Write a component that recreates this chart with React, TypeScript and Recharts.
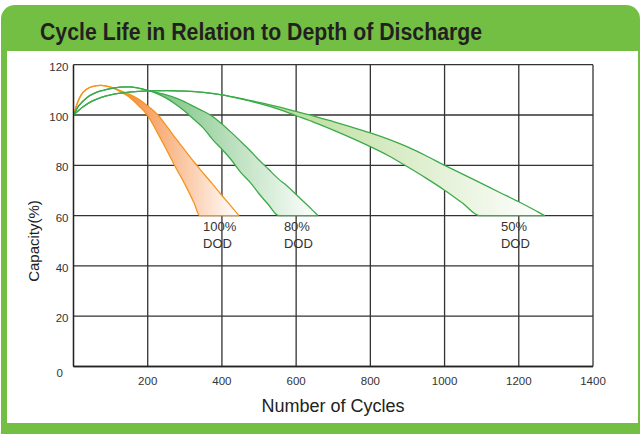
import React from 'react';
import { ComposedChart, Area, XAxis, YAxis, CartesianGrid, ReferenceDot } from 'recharts';

const xTicks = [0, 200, 400, 600, 800, 1000, 1200, 1400];
const yTicks = [0, 20, 40, 60, 80, 100, 120];

// 100% DOD band (orange)
const dod100Cycles = [0, 10, 20, 35, 50, 75, 100, 125, 150, 175, 200, 225, 250, 275, 300, 325, 340, 375, 400, 425, 446];
const dod100Upper = [100, 104.6, 107.8, 110.2, 111.3, 111.8, 111.1, 109.8, 108.3, 106.3, 103.6, 100.4, 95.8, 90.8, 86, 81.3, 78.6, 72.5, 68, 63.7, 60];
const dod100Lower = [100, 104.6, 107.8, 110.2, 111.3, 111.8, 111.1, 109.4, 107.2, 103.8, 99.8, 93.3, 86.4, 79.2, 72.5, 65, 60, 60, 60, 60, 60];

// 80% DOD band (green)
const dod80Cycles = [0, 15, 35, 60, 80, 100, 125, 150, 175, 200, 225, 250, 275, 300, 325, 350, 375, 400, 425, 450, 475, 500, 525, 553, 575, 600, 625, 650, 659];
const dod80Upper = [100, 103.8, 106.8, 108.9, 109.8, 110.5, 111.1, 111.2, 110.7, 109.8, 108.9, 108, 106.8, 105.2, 103.3, 101.5, 99.4, 96.4, 93.1, 89.6, 86, 82.1, 78.5, 74.5, 71.9, 68.4, 64.9, 61.3, 60];
const dod80Lower = [100, 103.8, 106.8, 108.9, 109.8, 110.5, 111.1, 111.2, 110.7, 109.8, 108.5, 106.7, 104.3, 101.5, 98.2, 94.8, 90.2, 86.4, 82.2, 77.3, 73.4, 68.7, 64.4, 60, 60, 60, 60, 60, 60];

// 50% DOD band (light green)
const dod50Cycles = [0, 25, 50, 75, 100, 150, 200, 250, 300, 350, 400, 450, 500, 550, 600, 650, 700, 750, 800, 850, 900, 950, 1000, 1050, 1094, 1150, 1200, 1250, 1270];
const dod50Upper = [100, 103.2, 105.5, 107, 108, 109.1, 109.6, 109.7, 109.5, 109, 108, 106.6, 105, 103.3, 101.4, 99.5, 97.4, 95.2, 92.9, 90.3, 87.3, 83.8, 80, 76.4, 73.2, 69.1, 65.5, 61.6, 60];
const dod50Lower = [100, 103.2, 105.5, 107, 108, 109.1, 109.6, 109.7, 109.5, 109, 108, 106.4, 104.6, 102.4, 99.7, 97, 94, 90.8, 87.4, 83.7, 79.4, 74.9, 70.1, 64.8, 60, 60, 60, 60, 60];

const dodLabels = [
  { cycles: 349, top: '100%', bottom: 'DOD' },
  { cycles: 567, top: '80%', bottom: 'DOD' },
  { cycles: 1152, top: '50%', bottom: 'DOD' },
];

const toRows = (xs: number[], lo: number[], hi: number[]) =>
  xs.map((x, i) => ({ x, band: [lo[i], hi[i]] }));

const FONT = '"Liberation Sans", Arial, sans-serif';
const GREEN = '#72BF44';

const YTick = (p: any) => {
  const zero = p.payload.value === 0;
  return (
    <text x={p.x - (zero ? 5.5 : 0)} y={p.y + (zero ? 6.5 : 2)} dy="0.355em" textAnchor="end"
      fontSize={11.5} fontFamily={FONT} fill="#333">
      {p.payload.value}
    </text>
  );
};

const XTick = (p: any) => {
  if (p.payload.value === 0) return <g />;
  return (
    <text x={p.x} y={p.y} dy="0.71em" textAnchor="middle" fontSize={11.5} fontFamily={FONT} fill="#333">
      {p.payload.value}
    </text>
  );
};

const DodLabel = ({ viewBox, top, bottom }: any) => (
  <text x={viewBox.x} y={viewBox.y} fontSize={13} fontFamily={FONT} fill="#333">
    <tspan x={viewBox.x} dy={15}>{top}</tspan>
    <tspan x={viewBox.x} dy={17.6}>{bottom}</tspan>
  </text>
);

export default function App() {
  return (
    <div style={{ position: 'absolute', left: 0, top: 0, width: 640, height: 434, background: '#fff' }}>
      <div style={{ position: 'absolute', left: 1, top: 5, width: 639, height: 429, background: GREEN, borderRadius: '14px 14px 0 0' }} />
      <div style={{ position: 'absolute', left: 7, top: 51, width: 631, height: 372, background: '#fff' }} />
      <div style={{
        position: 'absolute', left: 40, top: 21, fontFamily: FONT, fontWeight: 'bold', fontSize: 23,
        lineHeight: '23px', color: '#231F20', whiteSpace: 'nowrap', transform: 'scaleX(0.925)', transformOrigin: 'left center',
      }}>
        Cycle Life in Relation to Depth of Discharge
      </div>
      <div style={{ position: 'absolute', left: 0, top: 0 }}>
        <ComposedChart width={640} height={434} margin={{ top: 64.7, right: 47, bottom: 37.5, left: 33.5 }}>
          <defs>
            <linearGradient id="g100" x1="0" y1="0" x2="1" y2="0">
              <stop offset="0.28" stopColor="#F5873A" />
              <stop offset="1" stopColor="#FFFFFF" />
            </linearGradient>
            <linearGradient id="g80" x1="0" y1="0" x2="1" y2="0">
              <stop offset="0.3" stopColor="#76C07C" />
              <stop offset="1" stopColor="#FFFFFF" />
            </linearGradient>
            <linearGradient id="g50" x1="0" y1="0" x2="1" y2="0">
              <stop offset="0.35" stopColor="#AFD78A" />
              <stop offset="1" stopColor="#FFFFFF" />
            </linearGradient>
          </defs>
          <CartesianGrid stroke="#333" strokeWidth={1.3} />
          <XAxis type="number" dataKey="x" domain={[0, 1400]} ticks={xTicks} interval={0}
            tickSize={0} tickMargin={10} height={30} stroke="#222" strokeWidth={1.3} tick={XTick}
            label={{ content: () => (
              <text x={333} y={411.7} textAnchor="middle" fontSize={18} fontFamily={FONT} fill="#222">Number of Cycles</text>
            ) }} />
          <YAxis type="number" domain={[0, 120]} ticks={yTicks} interval={0}
            tickSize={0} tickMargin={5} width={40} stroke="#222" strokeWidth={1.3} tick={YTick}
            label={{ content: () => (
              <text x={33} y={241} transform="rotate(-90 33 241)" textAnchor="middle" dominantBaseline="central"
                fontSize={15} fontFamily={FONT} fill="#222">Capacity(%)</text>
            ) }} />
          <Area data={toRows(dod100Cycles, dod100Lower, dod100Upper)} dataKey="band" type="monotone"
            stroke="#F7941D" strokeWidth={1.3} fill="url(#g100)" fillOpacity={1}
            dot={false} activeDot={false} isAnimationActive={false} />
          <Area data={toRows(dod80Cycles, dod80Lower, dod80Upper)} dataKey="band" type="monotone"
            stroke="#3BAA48" strokeWidth={1.3} fill="url(#g80)" fillOpacity={1}
            dot={false} activeDot={false} isAnimationActive={false} />
          <Area data={toRows(dod50Cycles, dod50Lower, dod50Upper)} dataKey="band" type="monotone"
            stroke="#3BAA48" strokeWidth={1.3} fill="url(#g50)" fillOpacity={1}
            dot={false} activeDot={false} isAnimationActive={false} />
          {dodLabels.map((d) => (
            <ReferenceDot key={d.top} x={d.cycles} y={60} r={0} fill="none" stroke="none"
              label={(p: any) => <DodLabel {...p} top={d.top} bottom={d.bottom} />} />
          ))}
        </ComposedChart>
      </div>
    </div>
  );
}
